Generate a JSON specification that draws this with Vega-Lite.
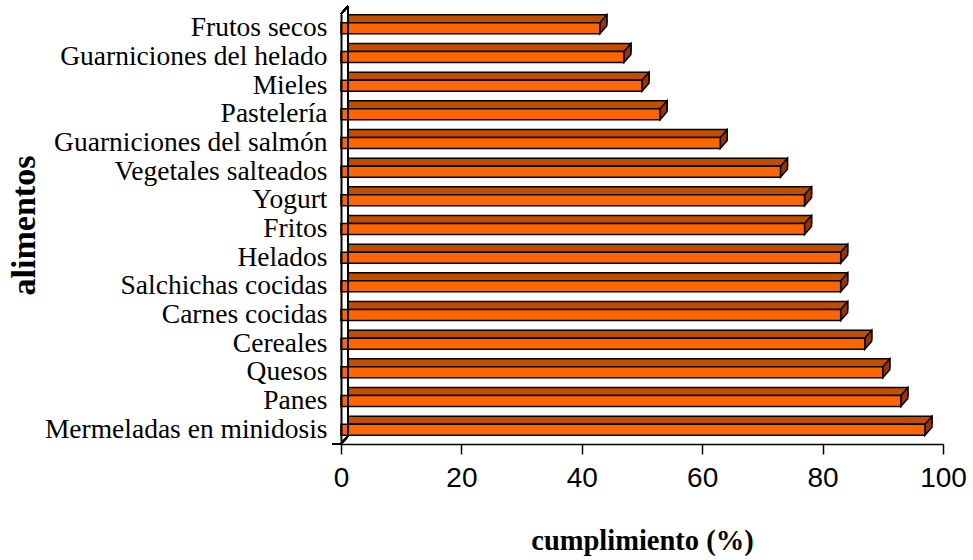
{
  "$schema": "https://vega.github.io/schema/vega-lite/v6.json",
  "width": 602,
  "height": 430,
  "autosize": {"type": "none"},
  "padding": {"left": 341, "top": 14, "right": 30, "bottom": 116},
  "background": "white",
  "config": {"view": {"stroke": null}},
  "data": {
    "values": [
      {"alimento": "Frutos secos", "cumplimiento": 43},
      {"alimento": "Guarniciones del helado", "cumplimiento": 47},
      {"alimento": "Mieles", "cumplimiento": 50},
      {"alimento": "Pastelería", "cumplimiento": 53},
      {"alimento": "Guarniciones del salmón", "cumplimiento": 63},
      {"alimento": "Vegetales salteados", "cumplimiento": 73},
      {"alimento": "Yogurt", "cumplimiento": 77},
      {"alimento": "Fritos", "cumplimiento": 77},
      {"alimento": "Helados", "cumplimiento": 83},
      {"alimento": "Salchichas cocidas", "cumplimiento": 83},
      {"alimento": "Carnes cocidas", "cumplimiento": 83},
      {"alimento": "Cereales", "cumplimiento": 87},
      {"alimento": "Quesos", "cumplimiento": 90},
      {"alimento": "Panes", "cumplimiento": 93},
      {"alimento": "Mermeladas en minidosis", "cumplimiento": 97}
    ]
  },
  "encoding": {
    "y": {
      "field": "alimento",
      "type": "nominal",
      "sort": null,
      "scale": {"paddingInner": 0, "paddingOuter": 0},
      "axis": {
        "orient": "left",
        "domain": true,
        "domainColor": "black",
        "domainWidth": 2,
        "ticks": false,
        "labelFont": "Liberation Serif",
        "labelFontSize": 27.5,
        "labelColor": "black",
        "labelPadding": 14,
        "labelLimit": 400,
        "labelBaseline": "middle",
        "zindex": 1,
        "title": "alimentos",
        "titleFont": "Liberation Serif",
        "titleFontSize": 34,
        "titleFontWeight": "bold",
        "titleColor": "black",
        "titleAngle": -90,
        "titleAlign": "center",
        "titleBaseline": "alphabetic",
        "titleX": -307,
        "titleY": 211
      }
    }
  },
  "layer": [
    {
      "mark": {"type": "bar", "fill": "#C04E00", "stroke": "black", "strokeWidth": 1.5, "size": 8, "yOffset": -9.5, "xOffset": 7, "x2Offset": 7},
      "encoding": {
        "x": {
          "field": "cumplimiento",
          "type": "quantitative",
          "scale": {"domain": [0, 100], "nice": false, "zero": true},
          "axis": {
            "values": [0, 20, 40, 60, 80, 100],
            "grid": false,
            "domainColor": "black",
            "domainWidth": 1.5,
            "tickColor": "black",
            "tickWidth": 1.5,
            "tickSize": 10,
            "labelFont": "Liberation Sans",
            "labelFontSize": 28,
            "labelColor": "black",
            "labelPadding": 10,
            "labelFlush": false,
            "labelOverlap": false,
            "title": "cumplimiento (%)",
            "titleFont": "Liberation Serif",
            "titleFontSize": 28.5,
            "titleFontWeight": "bold",
            "titleColor": "black",
            "titleBaseline": "alphabetic",
            "titleAlign": "center",
            "titleX": 301,
            "titleY": 105
          }
        },
        "x2": {"datum": 0}
      }
    },
    {
      "mark": {"type": "point", "shape": "M0,-0.55L0.7,-1.35L0.7,-0.25L0,0.55Z", "size": 400, "filled": true, "fill": "#993300", "stroke": "black", "strokeWidth": 1.5, "opacity": 1},
      "encoding": {
        "x": {"field": "cumplimiento", "type": "quantitative"}
      }
    },
    {
      "mark": {"type": "bar", "fill": "#FF6600", "stroke": "black", "strokeWidth": 1.5, "size": 11},
      "encoding": {
        "x": {"field": "cumplimiento", "type": "quantitative"},
        "x2": {"datum": 0}
      }
    },
    {
      "mark": {"type": "rule", "color": "black", "strokeWidth": 1.5, "xOffset": 7, "yOffset": -8, "y2Offset": -8},
      "encoding": {
        "x": {"datum": 0},
        "y": {"datum": "Frutos secos", "bandPosition": 0},
        "y2": {"datum": "Mermeladas en minidosis", "bandPosition": 1}
      }
    },
    {
      "mark": {"type": "rule", "color": "black", "strokeWidth": 1.5, "x2Offset": 7, "y2Offset": -8},
      "encoding": {
        "x": {"datum": 0},
        "x2": {"datum": 0},
        "y": {"datum": "Frutos secos", "bandPosition": 0},
        "y2": {"datum": "Frutos secos", "bandPosition": 0}
      }
    },
    {
      "mark": {"type": "rule", "color": "black", "strokeWidth": 1.5, "x2Offset": 7, "y2Offset": -8},
      "encoding": {
        "x": {"datum": 0},
        "x2": {"datum": 0},
        "y": {"datum": "Mermeladas en minidosis", "bandPosition": 1},
        "y2": {"datum": "Mermeladas en minidosis", "bandPosition": 1}
      }
    },
    {
      "mark": {"type": "rule", "color": "black", "strokeWidth": 1.5, "xOffset": -9},
      "encoding": {
        "x": {"datum": 0},
        "x2": {"datum": 0},
        "y": {"datum": "Mermeladas en minidosis", "bandPosition": 1}
      }
    }
  ]
}
